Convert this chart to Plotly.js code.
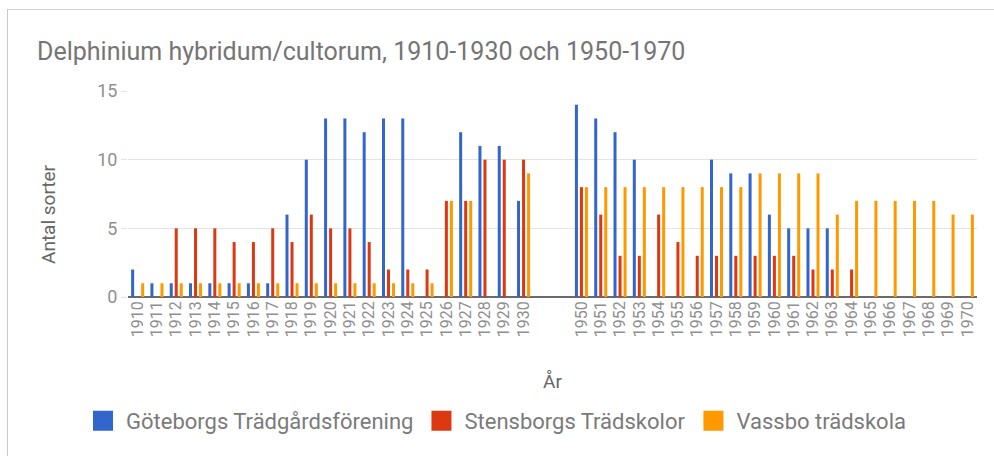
<!DOCTYPE html>
<html>
<head>
<meta charset="utf-8">
<script src="https://cdn.plot.ly/plotly-3.0.1.min.js"></script>
<style>
  html, body { margin: 0; padding: 0; background: #fff; }
  #chart { width: 994px; height: 457px; }
  #frame { position: absolute; left: 7px; top: 9px; width: 990px; height: 446px;
           border-left: 1px solid #c8c8c8; border-top: 1px solid #d0d0d0; pointer-events: none; }
</style>
</head>
<body>
<div id="chart"></div>
<div id="frame"></div>
<script>
// Categories (two blank slots separate the two periods)
const years = ['1910','1911','1912','1913','1914','1915','1916','1917','1918','1919','1920',
  '1921','1922','1923','1924','1925','1926','1927','1928','1929','1930',
  ' ','  ',
  '1950','1951','1952','1953','1954','1955','1956','1957','1958','1959','1960',
  '1961','1962','1963','1964','1965','1966','1967','1968','1969','1970'];

const goteborg = [2,1,1,1,1,1,1,1,6,10,13,13,12,13,13,0,0,12,11,11,7,
  null,null,
  14,13,12,10,0,0,0,10,9,9,6,5,5,5,0,0,0,0,0,0,0];

const stensborg = [0,0,5,5,5,4,4,5,4,6,5,5,4,2,2,2,7,7,10,10,10,
  null,null,
  8,6,3,3,6,4,3,3,3,3,3,3,2,2,2,0,0,0,0,0,0];

const vassbo = [1,1,1,1,1,1,1,1,1,1,1,1,1,1,1,1,7,7,0,0,9,
  null,null,
  8,8,8,8,8,8,8,8,8,9,9,9,9,6,7,7,7,7,7,6,6];

const seriesNames = ['Göteborgs Trädgårdsförening', 'Stensborgs Trädskolor', 'Vassbo trädskola'];
const seriesColors = ['#3366cc', '#dc3912', '#ff9900'];
const yTicks = [0, 5, 10, 15];

const FONT = 'Roboto, "Noto Sans", sans-serif';
const series = [goteborg, stensborg, vassbo];

const barTraces = series.map((vals, i) => ({
  type: 'bar',
  name: seriesNames[i],
  legendgroup: 'g' + i,
  showlegend: false,
  x: years,
  y: vals,
  marker: { color: seriesColors[i] },
  hoverinfo: 'x+y+name'
}));

// legend-only entries (larger square swatches like the original)
const legendTraces = seriesNames.map((n, i) => ({
  type: 'scatter',
  mode: 'markers',
  name: n,
  legendgroup: 'g' + i,
  x: [null],
  y: [null],
  marker: { symbol: 'square', size: 16, color: seriesColors[i],
            line: { width: 4, color: seriesColors[i] } },
  hoverinfo: 'skip'
}));

const layout = {
  width: 994,
  height: 457,
  margin: { l: 128, r: 17, t: 91, b: 160 },
  paper_bgcolor: '#ffffff',
  plot_bgcolor: '#ffffff',
  font: { family: FONT, color: '#757575' },
  title: {
    text: 'Delphinium hybridum/cultorum, 1910-1930 och 1950-1970',
    font: { family: FONT, size: 25, color: '#757575' },
    x: 37 / 994, xref: 'container', xanchor: 'left',
    y: 1 - 42 / 457, yref: 'container', yanchor: 'top'
  },
  barmode: 'group',
  bargap: 0.22,
  bargroupgap: 0.4,
  xaxis: {
    type: 'category',
    categoryorder: 'array',
    categoryarray: years,
    tickmode: 'linear',
    tick0: 0,
    dtick: 1,
    tickangle: -90,
    tickfont: { family: FONT, size: 16, color: '#8f8f8f' },
    showgrid: false,
    showline: false,
    ticks: '',
    title: { text: 'År', font: { family: FONT, size: 19, color: '#666666' }, standoff: 38 },
    fixedrange: true
  },
  yaxis: {
    range: [0, 15],
    tickvals: yTicks,
    ticktext: yTicks.map(String),
    tickfont: { family: FONT, size: 18, color: '#8f8f8f' },
    gridcolor: '#e3e3e3',
    gridwidth: 1,
    zeroline: true,
    zerolinecolor: '#6b6b6b',
    zerolinewidth: 2,
    ticks: 'outside',
    ticklen: 6,
    tickcolor: '#e3e3e3',
    showline: false,
    fixedrange: true
  },
  annotations: [{
    text: 'Antal sorter',
    textangle: -90,
    xref: 'paper', yref: 'paper',
    x: (48 - 128) / 849, y: (297 - 214) / 206,
    xanchor: 'center', yanchor: 'middle',
    showarrow: false,
    font: { family: FONT, size: 19, color: '#666666' }
  }],
  legend: {
    orientation: 'h',
    x: 80 / 994, xref: 'container', xanchor: 'left',
    y: 1 - 421 / 457, yref: 'container', yanchor: 'middle',
    itemwidth: 36,
    font: { family: FONT, size: 22, color: '#7a7a7a' },
    itemclick: false, itemdoubleclick: false
  },
  showlegend: true
};

Plotly.newPlot('chart', barTraces.concat(legendTraces), layout, { displayModeBar: false, staticPlot: true });
</script>
</body>
</html>
